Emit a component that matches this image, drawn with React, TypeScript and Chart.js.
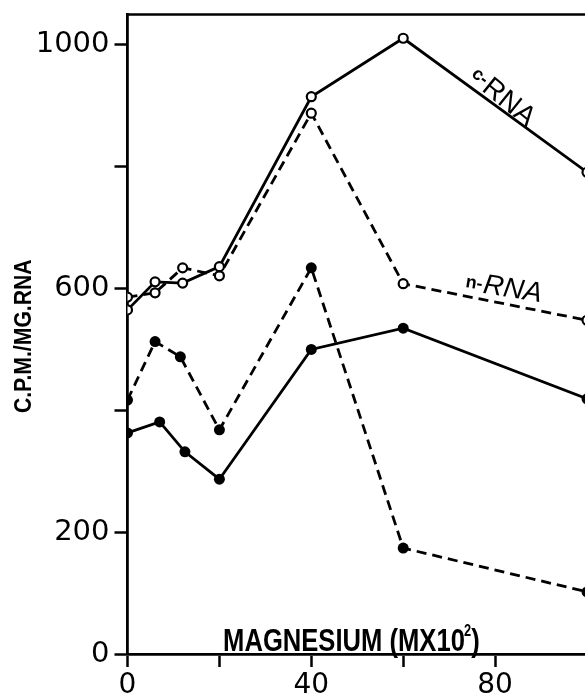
import React, { useEffect, useRef } from 'react';
import { Chart, registerables } from 'chart.js';

Chart.register(...registerables);

// Magnesium concentration (M x 10^-2)
const MG_OPEN = [0, 6, 12, 20, 40, 60, 100];
const C_RNA = [565, 611, 609, 636, 915, 1011, 791];
const N_RNA = [586, 593, 634, 621, 888, 608, 548];
const MG_FILLED_SOLID = [0, 7, 12.5, 20, 40, 60, 100];
const FILLED_SOLID = [363, 381, 332, 287, 500, 535, 419];
const MG_FILLED_DASHED = [0, 6, 11.5, 20, 40, 60, 100];
const FILLED_DASHED = [417, 513, 488, 368, 634, 174, 102];

const Y_TICKS = [0, 200, 400, 600, 800, 1000];
const Y_LABELED = [0, 200, 600, 1000];
const X_TICKS = [0, 20, 40, 60, 80, 100];
const X_LABELED = [0, 40, 80];

const Y_TITLE = 'C.P.M./MG.RNA';
const X_TITLE = 'MAGNESIUM (MX10';
const X_TITLE_SUP = '2';
const C_LABEL_PRE = 'c-';
const C_LABEL = 'RNA';
const N_LABEL_PRE = 'n-';
const N_LABEL = 'RNA';

const FAM = '"Liberation Sans", Arial, Helvetica, sans-serif';
const NUM_FAM = '"DejaVu Sans", sans-serif';

const pts = (xs: number[], ys: number[]) => xs.map((x, i) => ({ x, y: ys[i] }));

const annotPlugin = {
  id: 'annot',
  afterDatasetsDraw(chart: any) {
    const { ctx, chartArea, scales } = chart;
    const x = scales.x;
    const y = scales.y;
    ctx.save();
    // top frame line
    ctx.strokeStyle = '#000';
    ctx.lineWidth = 2.5;
    ctx.beginPath();
    ctx.moveTo(chartArea.left, chartArea.top);
    ctx.lineTo(chartArea.right, chartArea.top);
    ctx.stroke();

    ctx.fillStyle = '#000';
    ctx.textBaseline = 'alphabetic';

    // y-axis title (rotated, condensed)
    ctx.save();
    ctx.translate(31, (chartArea.top + chartArea.bottom) / 2 + 2);
    ctx.rotate(-Math.PI / 2);
    ctx.scale(0.92, 1);
    ctx.textAlign = 'center';
    ctx.font = `bold 23px ${FAM}`;
    ctx.fillText(Y_TITLE, 0, 0);
    ctx.restore();

    // x-axis title inside plot, sitting on the axis
    ctx.save();
    ctx.translate(x.getPixelForValue(20.8), y.getPixelForValue(0) - 3);
    ctx.scale(0.8, 1);
    ctx.textAlign = 'left';
    ctx.font = `bold 32px ${FAM}`;
    ctx.fillText(X_TITLE, 0, 0);
    const w = ctx.measureText(X_TITLE).width;
    ctx.font = `bold 16px ${FAM}`;
    ctx.fillText(X_TITLE_SUP, w - 1, -15);
    const w2 = ctx.measureText(X_TITLE_SUP).width;
    ctx.font = `bold 32px ${FAM}`;
    ctx.fillText(')', w + w2 - 1, 0);
    ctx.restore();

    // c-RNA label (along the line)
    ctx.save();
    ctx.translate(x.getPixelForValue(76.9), y.getPixelForValue(926));
    ctx.rotate((39 * Math.PI) / 180);
    ctx.textAlign = 'left';
    ctx.font = `28px ${FAM}`;
    ctx.fillText(C_LABEL, 0, 0);
    ctx.textAlign = 'right';
    ctx.font = `bold 18px ${FAM}`;
    ctx.fillText(C_LABEL_PRE, -1, -5);
    ctx.restore();

    // n-RNA label
    ctx.save();
    ctx.translate(x.getPixelForValue(77.2), y.getPixelForValue(593));
    ctx.rotate((9 * Math.PI) / 180);
    ctx.textAlign = 'left';
    ctx.font = `italic 28px ${FAM}`;
    ctx.fillText(N_LABEL, 0, 0);
    ctx.textAlign = 'right';
    ctx.font = `bold 18px ${FAM}`;
    ctx.fillText(N_LABEL_PRE, -1, -3);
    ctx.restore();

    ctx.restore();
  },
};

export default function App() {
  const ref = useRef<HTMLCanvasElement>(null);
  useEffect(() => {
    if (!ref.current) return;
    const chart = new Chart(ref.current, {
      type: 'line',
      data: {
        datasets: [
          {
            label: 'c-RNA',
            data: pts(MG_OPEN, C_RNA),
            borderColor: '#000',
            borderWidth: 2.8,
            pointRadius: 4.5,
            pointBorderWidth: 2.2,
            pointBorderColor: '#000',
            pointBackgroundColor: '#fff',
            tension: 0,
          },
          {
            label: 'n-RNA',
            data: pts(MG_OPEN, N_RNA),
            borderColor: '#000',
            borderWidth: 2.8,
            borderDash: [10, 6],
            pointRadius: 4.5,
            pointBorderWidth: 2.2,
            pointBorderColor: '#000',
            pointBackgroundColor: '#fff',
            tension: 0,
          },
          {
            label: 'filled solid',
            data: pts(MG_FILLED_SOLID, FILLED_SOLID),
            borderColor: '#000',
            borderWidth: 2.8,
            pointRadius: 5.5,
            pointBorderWidth: 0,
            pointBackgroundColor: '#000',
            tension: 0,
          },
          {
            label: 'filled dashed',
            data: pts(MG_FILLED_DASHED, FILLED_DASHED),
            borderColor: '#000',
            borderWidth: 2.8,
            borderDash: [10, 6],
            pointRadius: 5.5,
            pointBorderWidth: 0,
            pointBackgroundColor: '#000',
            tension: 0,
          },
        ],
      },
      options: {
        responsive: false,
        devicePixelRatio: 1,
        animation: false,
        layout: { padding: { left: 0, top: 14.5, right: 13, bottom: 0 } },
        plugins: { legend: { display: false }, tooltip: { enabled: false } },
        scales: {
          x: {
            type: 'linear',
            min: 0,
            max: 100,
            afterBuildTicks: (s: any) => {
              s.ticks = X_TICKS.map((v) => ({ value: v }));
            },
            afterFit: (s: any) => {
              s.height = 41;
              s.paddingLeft = 0;
              s.paddingRight = 0;
            },
            ticks: {
              color: '#000',
              font: { family: NUM_FAM, size: 28 },
              padding: 2,
              maxRotation: 0,
              autoSkip: false,
              callback: (v: any) => (X_LABELED.includes(Number(v)) ? String(v) : ''),
            },
            grid: {
              drawOnChartArea: false,
              drawTicks: true,
              tickLength: 13,
              tickWidth: 2.5,
              tickColor: '#000',
            },
            border: { display: true, color: '#000', width: 2.8 },
          },
          y: {
            type: 'linear',
            min: 0,
            max: 1050,
            afterBuildTicks: (s: any) => {
              s.ticks = Y_TICKS.map((v) => ({ value: v }));
            },
            afterFit: (s: any) => {
              s.width = 127.5;
              s.paddingTop = 0;
              s.paddingBottom = 0;
            },
            ticks: {
              color: '#000',
              font: { family: NUM_FAM, size: 29 },
              padding: 5,
              autoSkip: false,
              callback: (v: any) => (Y_LABELED.includes(Number(v)) ? String(v) : ''),
            },
            grid: {
              drawOnChartArea: false,
              drawTicks: true,
              tickLength: 13,
              tickWidth: 2.5,
              tickColor: '#000',
            },
            border: { display: true, color: '#000', width: 2.8 },
          },
        },
      },
      plugins: [annotPlugin],
    } as any);
    return () => chart.destroy();
  }, []);

  return (
    <div
      style={{
        position: 'fixed',
        left: 0,
        top: 0,
        width: 585,
        height: 695,
        overflow: 'hidden',
        background: '#fff',
      }}
    >
      <canvas ref={ref} width={600} height={695} style={{ display: 'block' }} />
    </div>
  );
}
